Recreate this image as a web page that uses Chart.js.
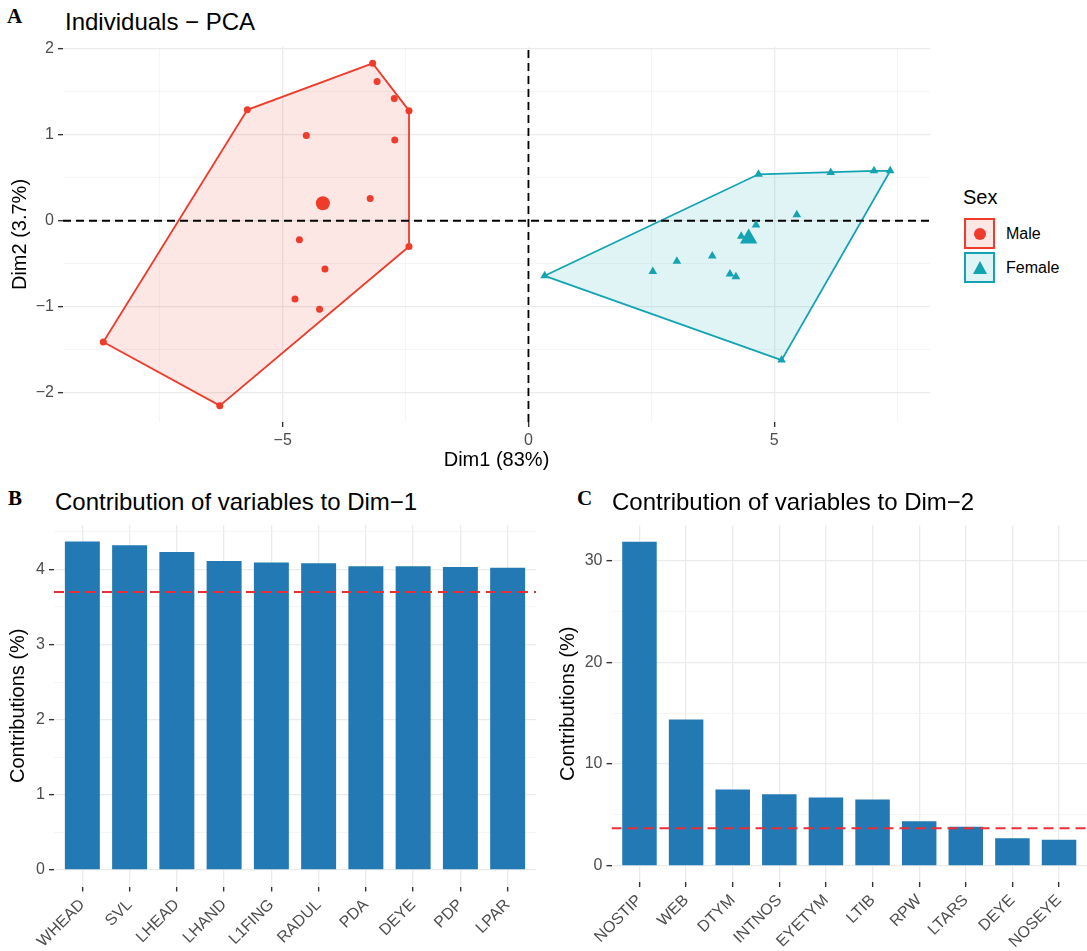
<!DOCTYPE html>
<html>
<head>
<meta charset="utf-8">
<script src="https://cdn.jsdelivr.net/npm/chart.js@4.4.1/dist/chart.umd.min.js"></script>
<style>
  html, body { margin: 0; padding: 0; background: #fff; }
  body { width: 1087px; height: 951px; position: relative; overflow: hidden;
         font-family: "Liberation Sans", Arial, sans-serif; color: #000; }
  canvas { position: absolute; }
  .tag { position: absolute; font-family: "Liberation Serif", serif; font-weight: bold;
         font-size: 21px; line-height: 21px; }
  .title { position: absolute; font-size: 24px; line-height: 24px; white-space: nowrap; }
  #legend { position: absolute; left: 963px; top: 187px; }
  #legend .head { font-size: 20px; line-height: 20px; margin-bottom: 11px; }
  .key { position: relative; height: 34px; }
  .key .box { position: absolute; left: 1px; top: 0; width: 27px; height: 27px; border: 2px solid; }
  .key .lab { position: absolute; left: 43px; top: 8px; font-size: 16px; line-height: 16px; white-space: nowrap; }
</style>
</head>
<body>
<div class="tag" style="left:7px; top:6px;">A</div>
<div class="title" style="left:65px; top:10px;">Individuals − PCA</div>
<canvas id="pcaChart" width="940" height="470" style="left:0; top:0;"></canvas>
<div id="legend"></div>

<div class="tag" style="left:8px; top:488px;">B</div>
<div class="title" style="left:55px; top:490px;">Contribution of variables to Dim−1</div>
<canvas id="dim1Chart" width="545" height="481" style="left:0; top:470px;"></canvas>

<div class="tag" style="left:577px; top:488px;">C</div>
<div class="title" style="left:612px; top:490px;">Contribution of variables to Dim−2</div>
<canvas id="dim2Chart" width="547" height="481" style="left:540px; top:470px;"></canvas>

<script>
// individuals on the first two components
const maleDim1 = [-3.17, -3.08, -2.73, -2.43, -5.72, -4.52, -2.72, -3.22, -4.66, -2.43, -4.14, -4.75, -4.25, -8.65, -6.28];
const maleDim2 = [1.83, 1.62, 1.42, 1.28, 1.29, 0.99, 0.94, 0.26, -0.22, -0.30, -0.56, -0.91, -1.03, -1.41, -2.15];
const femaleDim1 = [0.33, 2.53, 3.02, 3.74, 4.10, 4.22, 4.33, 4.63, 4.68, 5.46, 5.15, 6.15, 7.03, 7.36];
const femaleDim2 = [-0.64, -0.59, -0.47, -0.41, -0.62, -0.65, -0.18, -0.05, 0.54, 0.07, -1.62, 0.56, 0.58, 0.58];

const sexGroups = ['Male', 'Female'];
const sexColors = ['#EE3B2A', '#13A3B3'];
const sexFills = ['rgba(238, 59, 42, 0.12)', 'rgba(19, 163, 179, 0.13)'];
const sexShapes = ['circle', 'triangle'];

const dim1Range = [-9.47, 8.17];
const dim2Range = [-2.34, 2.02];
const dim1Ticks = [-7.5, -5, -2.5, 0, 2.5, 5, 7.5];
const dim1Labels = [-5, 0, 5];
const dim2Ticks = [-2, -1.5, -1, -0.5, 0, 0.5, 1, 1.5, 2];
const dim2Labels = [-2, -1, 0, 1, 2];

// contributions of variables
const dim1Vars = ['WHEAD', 'SVL', 'LHEAD', 'LHAND', 'L1FING', 'RADUL', 'PDA', 'DEYE', 'PDP', 'LPAR'];
const dim1Contrib = [4.37, 4.32, 4.23, 4.11, 4.09, 4.08, 4.04, 4.04, 4.03, 4.02];
const dim2Vars = ['NOSTIP', 'WEB', 'DTYM', 'INTNOS', 'EYETYM', 'LTIB', 'RPW', 'LTARS', 'DEYE', 'NOSEYE'];
const dim2Contrib = [31.83, 14.36, 7.49, 7.03, 6.71, 6.51, 4.38, 3.83, 2.71, 2.55];
const expectedContrib = 3.7;

const contrib1Range = [-0.22, 4.59];
const contrib1Ticks = [0, 0.5, 1, 1.5, 2, 2.5, 3, 3.5, 4, 4.5];
const contrib1Labels = [0, 1, 2, 3, 4];
const contrib2Range = [-1.59, 33.42];
const contrib2Ticks = [0, 5, 10, 15, 20, 25, 30];
const contrib2Labels = [0, 10, 20, 30];

Chart.defaults.font.family = '"Liberation Sans", Arial, sans-serif';
Chart.defaults.color = '#4D4D4D';

const fmt = v => (v < 0 ? '\u2212' + Math.abs(v) : String(v));

function convexHull(points) {
    const p = points.slice().sort((a, b) => a.x - b.x || a.y - b.y);
    const cross = (o, a, b) => (a.x - o.x) * (b.y - o.y) - (a.y - o.y) * (b.x - o.x);
    const lower = [], upper = [];
    for (const pt of p) {
        while (lower.length >= 2 && cross(lower[lower.length - 2], lower[lower.length - 1], pt) <= 0) lower.pop();
        lower.push(pt);
    }
    for (let i = p.length - 1; i >= 0; i--) {
        const pt = p[i];
        while (upper.length >= 2 && cross(upper[upper.length - 2], upper[upper.length - 1], pt) <= 0) upper.pop();
        upper.push(pt);
    }
    upper.pop(); lower.pop();
    const hull = lower.concat(upper);
    hull.push(hull[0]);
    return hull;
}

const mean = arr => arr.reduce((s, v) => s + v, 0) / arr.length;

// linear axis with major (labelled) and minor grid lines, fixed box size
function axis({ range, ticks, labels, size, horizontal, title, titlePad, labelFor, rotate }) {
    const isMajor = v => labels.includes(v);
    return {
        type: 'linear',
        min: range[0],
        max: range[1],
        offset: false,
        afterBuildTicks: s => { s.ticks = ticks.map(v => ({ value: v })); },
        afterFit: s => { if (horizontal) s.height = size; else s.width = size; },
        border: { display: false },
        grid: {
            offset: false,
            color: c => (c.tick && isMajor(c.tick.value) ? '#EBEBEB' : '#F3F3F3'),
            lineWidth: c => (c.tick && isMajor(c.tick.value) ? 1.3 : 0.8),
            tickLength: 5,
            tickWidth: 1.4,
            tickColor: c => (c.tick && isMajor(c.tick.value) ? '#333333' : 'rgba(0,0,0,0)')
        },
        ticks: {
            autoSkip: false,
            padding: 4,
            color: '#4D4D4D',
            font: { size: 16 },
            minRotation: rotate || 0,
            maxRotation: rotate || 0,
            callback: v => (isMajor(v) ? (labelFor ? labelFor(v) : fmt(v)) : '')
        },
        title: {
            display: !!title,
            text: title,
            color: '#000',
            font: { size: 20, lineHeight: 1 },
            padding: { top: titlePad || 0, bottom: titlePad || 0 }
        }
    };
}

function loadPcaChart() {
    const groups = [
        maleDim1.map((x, i) => ({ x, y: maleDim2[i] })),
        femaleDim1.map((x, i) => ({ x, y: femaleDim2[i] }))
    ];
    const centers = [
        [{ x: mean(maleDim1), y: mean(maleDim2) }],
        [{ x: mean(femaleDim1), y: mean(femaleDim2) }]
    ];
    const datasets = [];
    groups.forEach((pts, g) => {
        datasets.push({
            type: 'scatter', label: sexGroups[g], data: pts, order: 1,
            pointStyle: sexShapes[g], pointRadius: g ? 5 : 3.5,
            backgroundColor: sexColors[g], borderColor: sexColors[g], borderWidth: 0
        });
        datasets.push({
            type: 'scatter', label: sexGroups[g] + ' mean', data: centers[g], order: 1,
            pointStyle: sexShapes[g], pointRadius: g ? 10 : 7,
            backgroundColor: sexColors[g], borderColor: sexColors[g], borderWidth: 0
        });
        datasets.push({
            type: 'line', label: sexGroups[g] + ' hull', data: convexHull(pts), order: 3,
            borderColor: sexColors[g], backgroundColor: sexFills[g], borderWidth: 1.8,
            fill: 'shape', pointRadius: 0, tension: 0
        });
    });
    // zero reference lines
    datasets.push({
        type: 'line', data: [{ x: 0, y: dim2Range[0] }, { x: 0, y: dim2Range[1] }], order: 2,
        borderColor: '#000', borderWidth: 1.8, borderDash: [8, 5], pointRadius: 0, fill: false
    });
    datasets.push({
        type: 'line', data: [{ x: dim1Range[0], y: 0 }, { x: dim1Range[1], y: 0 }], order: 2,
        borderColor: '#000', borderWidth: 1.8, borderDash: [8, 5], pointRadius: 0, fill: false
    });

    new Chart(document.getElementById('pcaChart').getContext('2d'), {
        type: 'scatter',
        data: { datasets },
        options: {
            responsive: false,
            animation: false,
            events: [],
            layout: { padding: { left: 0, top: 47, right: 8, bottom: 0 } },
            plugins: { legend: { display: false }, tooltip: { enabled: false } },
            scales: {
                x: axis({ range: dim1Range, ticks: dim1Ticks, labels: dim1Labels, size: 48,
                          horizontal: true, title: 'Dim1 (83%)' }),
                y: axis({ range: dim2Range, ticks: dim2Ticks, labels: dim2Labels, size: 63,
                          title: 'Dim2 (3.7%)', titlePad: 10 })
            }
        }
    });

    // legend
    const legend = document.getElementById('legend');
    legend.innerHTML = '<div class="head">Sex</div>' + sexGroups.map((name, g) => {
        const mark = sexShapes[g] === 'circle'
            ? `<div style="position:absolute;left:7.5px;top:7.5px;width:12px;height:12px;border-radius:50%;background:${sexColors[g]}"></div>`
            : `<div style="position:absolute;left:6.5px;top:6.5px;width:0;height:0;border-left:7px solid transparent;border-right:7px solid transparent;border-bottom:13px solid ${sexColors[g]}"></div>`;
        return `<div class="key"><div class="box" style="border-color:${sexColors[g]};background:${sexFills[g]}">${mark}</div>` +
               `<div class="lab">${name}</div></div>`;
    }).join('');
}

function loadContribChart(id, vars, values, range, ticks, labels, yWidth, xHeight, pad, titlePad) {
    new Chart(document.getElementById(id).getContext('2d'), {
        type: 'bar',
        data: {
            datasets: [
                {
                    type: 'line', data: [{ x: -0.6, y: expectedContrib }, { x: 9.6, y: expectedContrib }],
                    order: 0, borderColor: '#EE2E36', borderWidth: 2, borderDash: [10, 6],
                    pointRadius: 0, fill: false
                },
                {
                    type: 'bar', data: values.map((v, i) => ({ x: i, y: v })), order: 1,
                    backgroundColor: '#2279B3', borderWidth: 0,
                    barPercentage: 0.74, categoryPercentage: 1
                }
            ]
        },
        options: {
            responsive: false,
            animation: false,
            events: [],
            layout: { padding: pad },
            plugins: { legend: { display: false }, tooltip: { enabled: false } },
            scales: {
                x: axis({ range: [-0.6, 9.6], ticks: vars.map((v, i) => i), labels: vars.map((v, i) => i),
                          size: xHeight, horizontal: true, rotate: 45, labelFor: v => vars[v] }),
                y: axis({ range, ticks, labels, size: yWidth, title: 'Contributions (%)', titlePad })
            }
        }
    });
}

document.addEventListener('DOMContentLoaded', () => {
    loadPcaChart();
    loadContribChart('dim1Chart', dim1Vars, dim1Contrib, contrib1Range, contrib1Ticks, contrib1Labels,
                     54, 64.5, { left: 0, top: 55, right: 9, bottom: 0 }, 8);
    loadContribChart('dim2Chart', dim2Vars, dim2Contrib, contrib2Range, contrib2Ticks, contrib2Labels,
                     71.5, 69, { left: 0, top: 55.5, right: 0, bottom: 0 }, 18);
});
</script>
</body>
</html>
